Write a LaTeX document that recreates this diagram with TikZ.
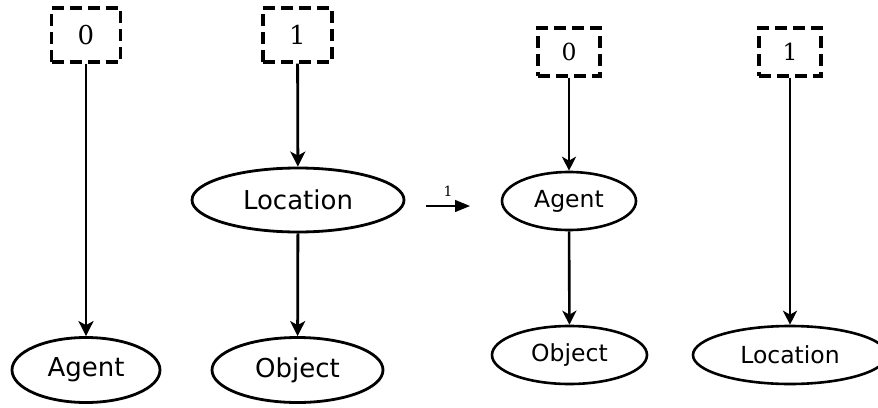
\documentclass[tikz,border=0pt]{standalone}
\usepackage{fontspec}
\setmainfont{DejaVu Sans}
\newfontfamily\digitfont{DejaVu Serif}
\usetikzlibrary{shapes.geometric,arrows.meta}
\tikzset{
  big/.style={font=\fontsize{26}{30}\selectfont},
  small/.style={font=\fontsize{23.5}{27}\selectfont},
  idbox/.style={draw, line width=3.2pt, dash pattern=on 12pt off 6pt, rectangle, inner sep=0pt},
  ent/.style={draw, ellipse, line width=2.8pt, inner sep=0pt},
  edge/.style={line width=2.8pt, -{Stealth[length=15pt,width=15pt,inset=4pt]}},
  edgesm/.style={line width=2.6pt, -{Stealth[length=14pt,width=14pt,inset=4pt]}},
}
\begin{document}
\begin{tikzpicture}[x=1pt,y=-1pt]
\useasboundingbox (0,0) rectangle (878,407);
% left graph
\node[idbox, minimum width=69pt, minimum height=54pt, font=\fontsize{26}{30}\selectfont\digitfont] (b0L) at (86,35) {0};
\node[idbox, minimum width=69pt, minimum height=54pt, font=\fontsize{26}{30}\selectfont\digitfont] (b1L) at (297.5,35) {1};
\node[ent, big, minimum width=212pt, minimum height=64pt] (locL) at (298,200) {Location};
\node[ent, big, minimum width=148pt, minimum height=65pt] (agL) at (86,370) {Agent};
\node[ent, big, minimum width=171pt, minimum height=65pt] (obL) at (297.5,370) {Object};
\draw[edge] (b0L) -- (agL);
\draw[edge] (b1L) -- (locL);
\draw[edge] (locL) -- (obL);
% middle arrow
\coordinate (ms) at (426,206);
\coordinate (me) at (470,206);
\draw[line width=1.4pt, -{Triangle[length=15pt,width=12pt]}] (ms) -- node[above=5pt, font=\fontsize{14}{16}\selectfont\digitfont] (ml) {1} (me);
% right graph
\node[idbox, minimum width=62pt, minimum height=48pt, font=\fontsize{23.5}{27}\selectfont\digitfont] (b0R) at (569,52) {0};
\node[idbox, minimum width=62pt, minimum height=48pt, font=\fontsize{23.5}{27}\selectfont\digitfont] (b1R) at (790,52) {1};
\node[ent, small, line width=2.6pt, minimum width=134pt, minimum height=58pt] (agR) at (569,201) {Agent};
\node[ent, small, line width=2.6pt, minimum width=155pt, minimum height=58pt] (obR) at (569.5,355) {Object};
\node[ent, small, line width=2.6pt, minimum width=194pt, minimum height=58pt] (locR) at (790,355) {Location};
\draw[edgesm] (b0R) -- (agR);
\draw[edgesm] (agR) -- (obR);
\draw[edgesm] (b1R) -- (locR);
\end{tikzpicture}
\end{document}
